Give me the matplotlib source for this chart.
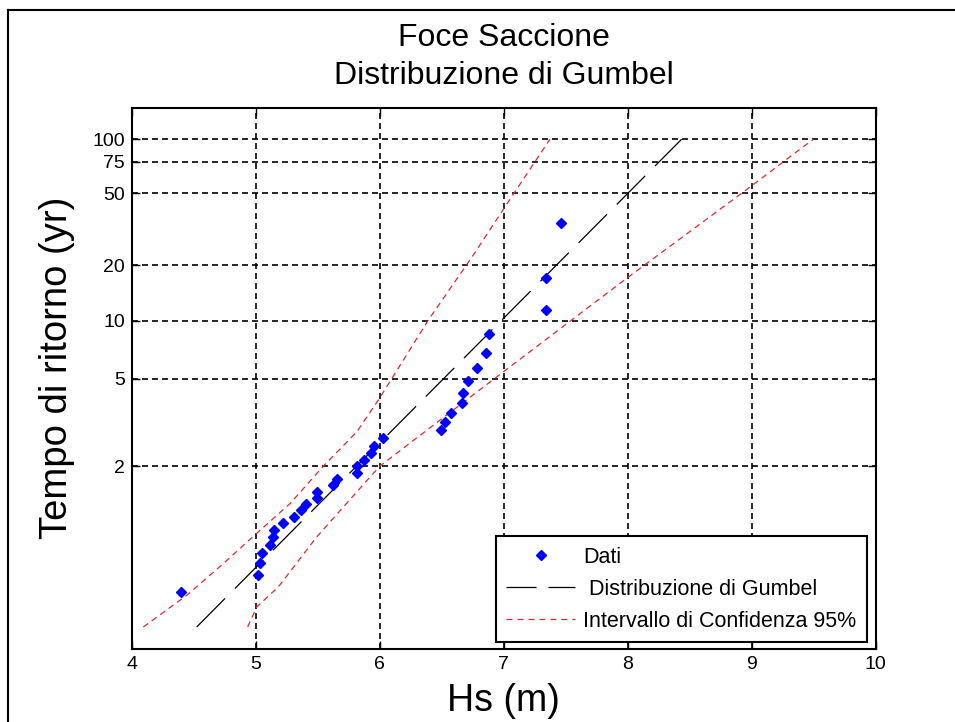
import numpy as np
import matplotlib
matplotlib.use("Agg")
import matplotlib.pyplot as plt
from matplotlib.lines import Line2D

plt.rcParams['font.family'] = ['Liberation Sans', 'DejaVu Sans']
plt.rcParams['lines.scale_dashes'] = False

# ---- data ----
# observed Hs (m) and Gumbel reduced variate of plotting position
hs_data = [4.400, 5.021, 5.035, 5.051, 5.115, 5.142, 5.148, 5.223, 5.309, 5.365,
           5.406, 5.492, 5.492, 5.626, 5.653, 5.815, 5.820, 5.873, 5.927, 5.954,
           6.030, 6.494, 6.527, 6.575, 6.661, 6.674, 6.715, 6.782, 6.855, 6.882,
           7.339, 7.339, 7.460]
y_data = [-1.260, -1.041, -0.887, -0.761, -0.651, -0.551, -0.458, -0.369, -0.285, -0.202,
          -0.121, -0.041, 0.039, 0.120, 0.200, 0.283, 0.367, 0.453, 0.541, 0.634,
          0.730, 0.832, 0.940, 1.055, 1.179, 1.316, 1.467, 1.639, 1.838, 2.078,
          2.383, 2.803, 3.511]

# fitted Gumbel line
gumbel_x = [4.524, 8.435]
gumbel_y = [-1.715, 4.600]

# 95% confidence bounds
ci_left_x = [4.094, 4.444, 4.739, 5.000, 5.277, 5.545, 5.815, 6.000, 6.392, 6.755, 7.000, 7.373]
ci_left_y = [-1.715, -1.304, -0.894, -0.514, -0.117, 0.367, 0.811, 1.250, 2.258, 3.100, 3.700, 4.600]
ci_right_x = [4.935, 5.008, 5.182, 5.492, 6.000, 6.997, 7.997, 8.919, 9.497]
ci_right_y = [-1.715, -1.456, -1.197, -0.549, 0.367, 1.588, 2.806, 3.900, 4.600]

# return-period tick labels (years)
return_periods = [2, 5, 10, 20, 50, 75, 100]
x_ticks = [4, 5, 6, 7, 8, 9, 10]

# ---- figure ----
W, H = 955, 722
fig = plt.figure(figsize=(W / 100, H / 100), dpi=100)
fig.patch.set_facecolor('white')
ax = fig.add_axes([131.7 / W, 1 - 649 / H, (875.7 - 131.7) / W, (649 - 108.3) / H])

red = '#dd2a2a'
ax.plot(ci_left_x, ci_left_y, color=red, lw=0.9, dashes=(4.3, 3.2), zorder=3)
ax.plot(ci_right_x, ci_right_y, color=red, lw=0.9, dashes=(4.3, 3.2), zorder=3)
ax.plot(gumbel_x, gumbel_y, color='black', lw=0.9, dashes=(29, 10), zorder=3)
ax.plot(hs_data, y_data, ls='none', marker='D', ms=5.3, color='blue', mec='blue', zorder=5)

ax.set_xlim(4, 10)
ax.set_ylim(-2, 5)
ax.set_xticks(x_ticks)
ax.set_xticklabels([str(v) for v in x_ticks])
T = np.array(return_periods, dtype=float)
ax.set_yticks(-np.log(-np.log(1 - 1 / T)))
ax.set_yticklabels([str(v) for v in return_periods])

ax.set_axisbelow(True)
ax.grid(True, color='black', lw=1.2, linestyle=(0, (4.3, 2.9)))
ax.tick_params(direction='in', length=6, width=1, top=True, right=True,
               labelsize=14, pad=5, colors='black')
for s in ax.spines.values():
    s.set_linewidth(1.5)
    s.set_color('black')

ax.set_xlabel('Hs (m)', fontsize=27, labelpad=7)
ax.set_ylabel('Tempo di ritorno (yr)', fontsize=27.5, labelpad=12)
ax.yaxis.label.set_y(0.52)

fig.text(503.7 / W, 1 - 46 / H, 'Foce Saccione', ha='center', va='baseline', fontsize=23)
fig.text(503.7 / W, 1 - 84 / H, 'Distribuzione di Gumbel', ha='center', va='baseline', fontsize=23)

# legend with proxy handles
h1 = Line2D([], [], ls='none', marker='D', ms=5.3, color='blue', mec='blue')
h2 = Line2D([], [], color='black', lw=0.9, dashes=(21.6, 8.6))
h3 = Line2D([], [], color=red, lw=0.9, dashes=(4.3, 3.6))
leg = ax.legend([h1, h2, h3], ['Dati', ' Distribuzione di Gumbel', 'Intervallo di Confidenza 95%'],
                loc='lower right', bbox_to_anchor=(866.7 / W, 1 - 642.3 / H),
                bbox_transform=fig.transFigure, borderaxespad=0, fontsize=15.5,
                handlelength=3.2, handletextpad=0.35, labelspacing=0.51, borderpad=0.5,
                numpoints=1, fancybox=False, shadow=False, framealpha=1)
leg.get_frame().set_edgecolor('black')
leg.get_frame().set_linewidth(1.5)

# window frame (left and top edges)
fig.add_artist(Line2D([8 / W, 8 / W], [0, 1 - 10 / H], color='black', lw=1.5, transform=fig.transFigure))
fig.add_artist(Line2D([8 / W, 1], [1 - 10 / H, 1 - 10 / H], color='black', lw=1.5, transform=fig.transFigure))

fig.savefig('out.png', dpi=100, facecolor='white')
